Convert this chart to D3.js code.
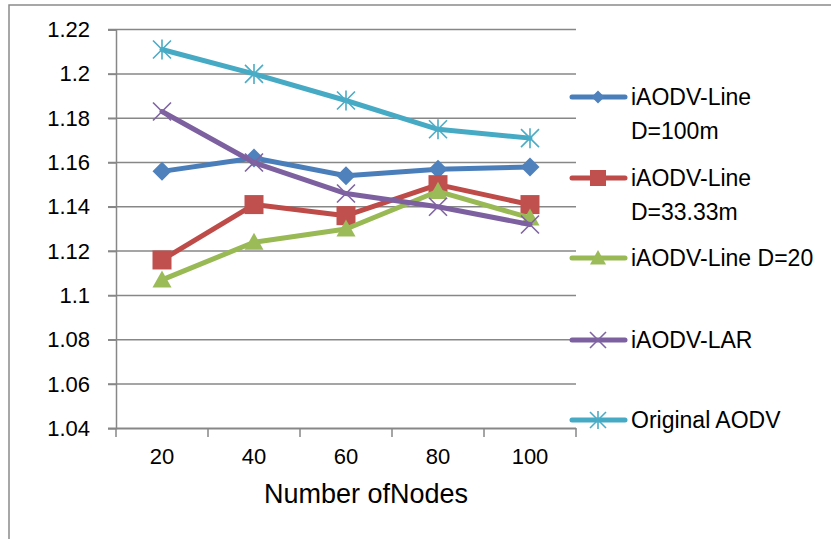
<!DOCTYPE html>
<html><head><meta charset="utf-8">
<script src="https://cdn.jsdelivr.net/npm/d3@7"></script>
<style>body{margin:0;background:#fff;} svg{display:block;}</style>
</head><body>
<script>
const categories = ["20","40","60","80","100"];
const seriesNames = [["iAODV-Line","D=100m"],["iAODV-Line","D=33.33m"],["iAODV-Line D=20"],["iAODV-LAR"],["Original AODV"]];
const lineD100 = [1.156, 1.162, 1.154, 1.157, 1.158];
const lineD33 = [1.116, 1.141, 1.136, 1.150, 1.141];
const lineD20 = [1.107, 1.124, 1.130, 1.147, 1.135];
const lar = [1.183, 1.160, 1.146, 1.140, 1.132];
const original = [1.211, 1.200, 1.188, 1.175, 1.171];
const yTicks = [1.04,1.06,1.08,1.1,1.12,1.14,1.16,1.18,1.2,1.22];
const xTitle = "Number ofNodes";

const series = [
  {name: seriesNames[0], values: lineD100, line: "#4A7EBB", fill: "#4F81BD", marker: "diamond"},
  {name: seriesNames[1], values: lineD33, line: "#BE4B48", fill: "#C0504D", marker: "square"},
  {name: seriesNames[2], values: lineD20, line: "#98B954", fill: "#9BBB59", marker: "triangle"},
  {name: seriesNames[3], values: lar, line: "#7D60A0", fill: "#8064A2", marker: "x"},
  {name: seriesNames[4], values: original, line: "#46AAC5", fill: "#4BACC6", marker: "star"}
];

const W = 831, H = 539;
const font = "'Liberation Sans', Arial, sans-serif";
const svg = d3.select("body").append("svg").attr("width", W).attr("height", H);

svg.append("rect").attr("x", 9).attr("y", 5).attr("width", W + 10).attr("height", H + 10)
  .attr("fill", "#fff").attr("stroke", "#8a8a8a").attr("stroke-width", 1.5);

const x = d3.scaleBand().domain(categories).range([116, 576]);
const y = d3.scaleLinear().domain([1.04, 1.22]).range([428.3, 29.6]);

// gridlines
svg.append("g").selectAll("line").data(yTicks).join("line")
  .attr("x1", 108).attr("x2", 576)
  .attr("y1", d => y(d)).attr("y2", d => y(d))
  .attr("stroke", "#878787").attr("stroke-width", 1.5);

// y axis
const yAxis = svg.append("g").attr("transform", "translate(116,0)")
  .call(d3.axisLeft(y).tickValues(yTicks).tickSize(8).tickPadding(18).tickFormat(d3.format("")));
yAxis.select(".domain").attr("stroke", "#878787").attr("stroke-width", 1.5);
yAxis.selectAll(".tick line").attr("stroke", "#878787").attr("stroke-width", 1.5);
yAxis.selectAll("text").attr("font-family", font).attr("font-size", 22).attr("fill", "#000");

// x axis
const xAxis = svg.append("g").attr("transform", "translate(0,428.3)")
  .call(d3.axisBottom(x).tickSize(0).tickPadding(20));
xAxis.select(".domain").attr("stroke", "#878787").attr("stroke-width", 1.5);
xAxis.selectAll(".tick line").remove();
xAxis.selectAll("text").attr("font-family", font).attr("font-size", 22).attr("fill", "#000");
// x tick marks at band boundaries
const bounds = categories.map(c => x(c)).concat([x.range()[1]]);
svg.append("g").selectAll("line").data(bounds).join("line")
  .attr("x1", d => d).attr("x2", d => d).attr("y1", 428.3).attr("y2", 437)
  .attr("stroke", "#878787").attr("stroke-width", 1.5);

svg.append("text").attr("x", 366).attr("y", 503).attr("text-anchor", "middle")
  .attr("font-family", font).attr("font-size", 27).attr("fill", "#000").text(xTitle);

function drawMarker(g, type, cx, cy, s, fill) {
  const h = s / 2;
  if (type === "diamond") {
    g.append("path").attr("d", `M${cx},${cy-h}L${cx+h},${cy}L${cx},${cy+h}L${cx-h},${cy}Z`).attr("fill", fill);
  } else if (type === "square") {
    g.append("rect").attr("x", cx - h).attr("y", cy - h).attr("width", s).attr("height", s).attr("fill", fill);
  } else if (type === "triangle") {
    g.append("path").attr("d", `M${cx},${cy-h}L${cx+h},${cy+h*0.8}L${cx-h},${cy+h*0.8}Z`).attr("fill", fill);
  } else if (type === "x") {
    g.append("path").attr("d", `M${cx-h},${cy-h}L${cx+h},${cy+h}M${cx-h},${cy+h}L${cx+h},${cy-h}`)
      .attr("stroke", fill).attr("stroke-width", 1.6).attr("fill", "none");
  } else if (type === "star") {
    g.append("path").attr("d", `M${cx-h},${cy-h}L${cx+h},${cy+h}M${cx-h},${cy+h}L${cx+h},${cy-h}M${cx},${cy-h-1}L${cx},${cy+h+1}`)
      .attr("stroke", fill).attr("stroke-width", 1.6).attr("fill", "none");
  }
}

const lineGen = d3.line().x((d, i) => x(categories[i]) + x.bandwidth() / 2).y(d => y(d));
const sizes = {diamond: 19, square: 19, triangle: 19, x: 18, star: 18};

series.forEach(s => {
  const g = svg.append("g");
  g.append("path").attr("d", lineGen(s.values)).attr("fill", "none")
    .attr("stroke", s.line).attr("stroke-width", 5).attr("stroke-linejoin", "round").attr("stroke-linecap", "round");
  s.values.forEach((v, i) => drawMarker(g, s.marker, x(categories[i]) + x.bandwidth() / 2, y(v), sizes[s.marker], s.fill));
});

// legend
const legendRows = [97, 178, 258, 340, 420];
series.forEach((s, i) => {
  const g = svg.append("g");
  const ly = legendRows[i];
  g.append("line").attr("x1", 572).attr("x2", 625).attr("y1", ly).attr("y2", ly)
    .attr("stroke", s.line).attr("stroke-width", 5).attr("stroke-linecap", "round");
  drawMarker(g, s.marker, 598, ly, s.marker === "diamond" ? 13 : 16, s.fill);
  s.name.forEach((t, j) => {
    g.append("text").attr("x", 631).attr("y", ly + 8 + j * 34).attr("font-family", font)
      .attr("font-size", 23).attr("fill", "#000").text(t);
  });
});
</script>
</body></html>
